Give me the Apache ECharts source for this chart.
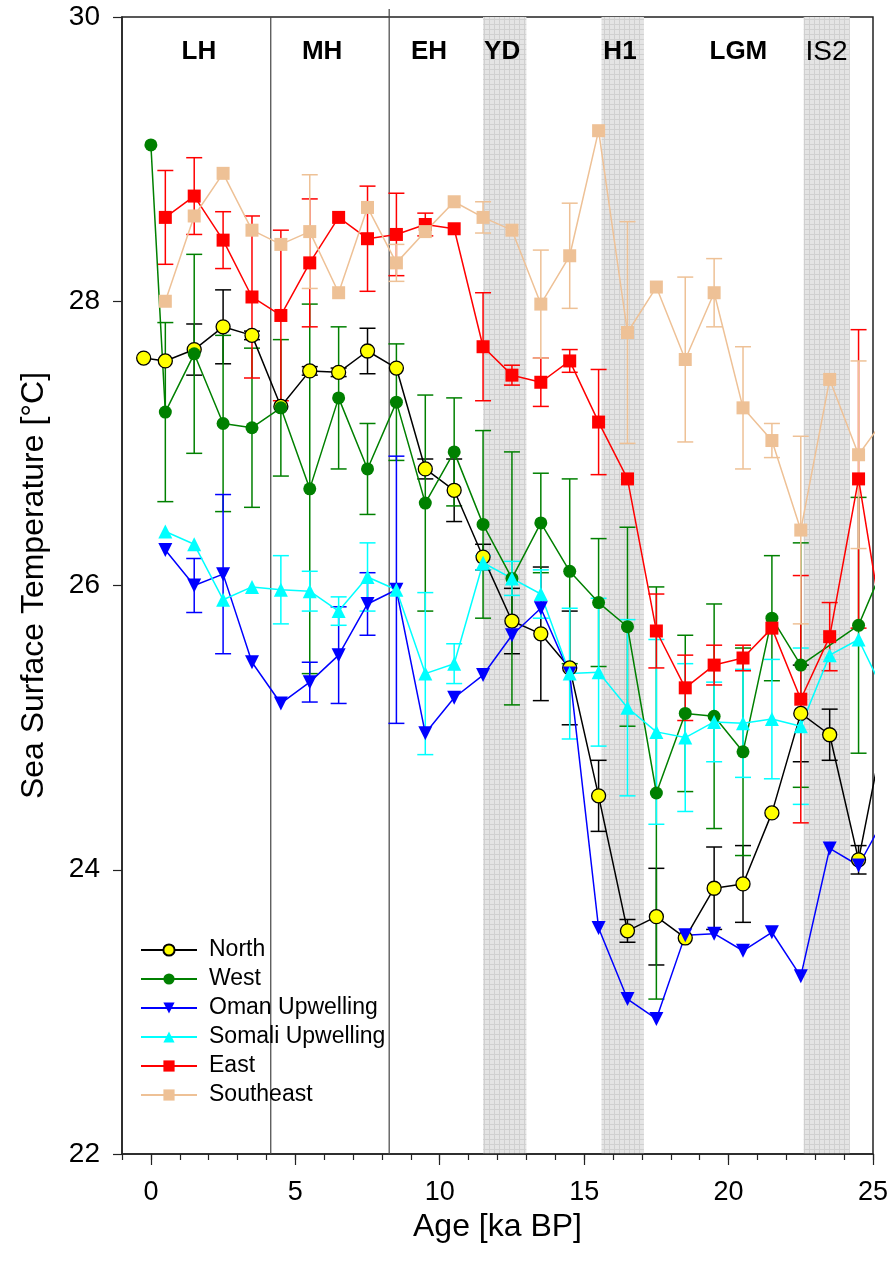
<!DOCTYPE html>
<html>
<head>
<meta charset="utf-8">
<script src="https://cdn.jsdelivr.net/npm/echarts@6/dist/echarts.min.js"></script>
<style>
html,body{margin:0;padding:0;background:#fff;}
#chart{width:892px;height:1271px;}
</style>
</head>
<body>
<div id="chart"></div>
<script>
// ---- Data ----
const northAge = [-0.25,0.5,1.5,2.5,3.5,4.5,5.5,6.5,7.5,8.5,9.5,10.5,11.5,12.5,13.5,14.5,15.5,16.5,17.5,18.5,19.5,20.5,21.5,22.5,23.5,24.5,25.5];
const northSST = [27.6,27.58,27.66,27.82,27.76,27.26,27.51,27.5,27.65,27.53,26.82,26.67,26.2,25.75,25.66,25.42,24.52,23.57,23.67,23.52,23.87,23.9,24.4,25.1,24.95,24.07,25.1];
const northErr = [null,null,0.18,0.26,0.03,null,0.03,0.03,0.16,null,0.07,0.22,0.09,0.23,0.47,0.4,0.25,0.08,0.34,null,0.29,0.27,null,0.34,0.18,0.1,null];

const westAge = [0,0.5,1.5,2.5,3.5,4.5,5.5,6.5,7.5,8.5,9.5,10.5,11.5,12.5,13.5,14.5,15.5,16.5,17.5,18.5,19.5,20.5,21.5,22.5,24.5,25.5];
const westSST = [29.1,27.22,27.63,27.14,27.11,27.25,26.68,27.32,26.82,27.29,26.58,26.94,26.43,26.05,26.44,26.1,25.88,25.71,24.54,25.1,25.08,24.83,25.77,25.44,25.72,26.2];
const westErr = [null,0.63,0.7,0.62,0.56,0.48,1.3,0.5,0.32,0.41,0.76,0.38,0.66,0.89,0.35,0.65,0.45,0.7,1.45,0.55,0.79,0.73,0.44,0.86,0.9,null];

const stdAge = [0.5,1.5,2.5,3.5,4.5,5.5,6.5,7.5,8.5,9.5,10.5,11.5,12.5,13.5,14.5,15.5,16.5,17.5,18.5,19.5,20.5,21.5,22.5,23.5,24.5,25.5];

const omanSST = [26.25,26.0,26.08,25.46,25.17,25.32,25.51,25.87,25.97,24.96,25.21,25.37,25.65,25.84,25.38,23.59,23.09,22.95,23.54,23.55,23.43,23.56,23.25,24.15,24.03,24.4];
const omanErr = [null,0.19,0.56,null,null,0.14,0.34,0.22,0.94,null,null,null,null,null,null,null,null,null,null,null,null,null,null,null,null,null];

const somaliSST = [26.38,26.29,25.9,25.99,25.97,25.96,25.82,26.06,25.97,25.38,25.45,26.16,26.05,25.94,25.38,25.39,25.14,24.97,24.93,25.04,25.03,25.06,25.01,25.51,25.62,25.2];
const somaliErr = [null,null,null,null,0.24,0.14,0.1,0.24,null,0.57,0.14,0.05,0.12,0.17,0.46,0.52,0.62,0.65,0.52,0.28,0.38,0.42,0.55,null,null,null];

const eastSST = [28.59,28.74,28.43,28.03,27.9,28.27,28.59,28.44,28.47,28.54,28.51,27.68,27.48,27.43,27.58,27.15,26.75,25.68,25.28,25.44,25.49,25.7,25.2,25.64,26.75,25.5];
const eastErr = [0.33,0.27,0.2,0.57,0.6,0.45,null,0.37,0.29,0.08,null,0.38,0.07,0.17,0.08,0.37,null,0.26,0.23,0.14,0.09,null,0.87,0.24,1.05,null];

const seSST = [28.0,28.6,28.9,28.5,28.4,28.49,28.06,28.66,28.27,28.49,28.7,28.59,28.5,27.98,28.32,29.2,27.78,28.1,27.59,28.06,27.25,27.02,26.39,27.45,26.92,27.2];
const seErr = [null,null,null,null,null,0.4,null,null,0.13,null,null,0.11,null,0.38,0.37,null,0.78,null,0.58,0.24,0.43,0.12,0.66,null,0.66,null];

const bands = [[11.5,13.0],[15.6,17.07],[22.6,24.2]];
const dividers = [4.15,8.25];
const periodNames = ['LH','MH','EH','YD','H1','LGM','IS2'];
const periodAges  = [1.66,5.93,9.63,12.16,16.24,20.34,23.39];
const periodBold  = [true,true,true,true,true,true,false];
const periodY = 29.755;

const xLabelValues = [0,5,10,15,20,25];
const xMinorValues = [-1,0,1,2,3,4,5,6,7,8,9,10,11,12,13,14,15,16,17,18,19,20,21,22,23,24,25];

// ---- Build ----
const FONT = 'Liberation Sans, Arial, sans-serif';
const pat = document.createElement('canvas');
pat.width = 5; pat.height = 5;
(function(){const c=pat.getContext('2d');c.fillStyle='#e4e4e4';c.fillRect(0,0,5,5);c.fillStyle='#d0d0d0';c.fillRect(4,0,1,5);c.fillRect(0,4,5,1);})();

function pairs(ages, vals){ return ages.map((a,i)=>[a, vals[i]]); }

function errSeries(ages, vals, errs, color){
  const data = [];
  for (let i=0;i<ages.length;i++) if (errs[i]!=null) data.push([ages[i], vals[i]-errs[i], vals[i]+errs[i]]);
  return {
    type:'custom', silent:true, data, clip:true, encode:{x:0,y:[1,2]},
    renderItem(params, api){
      const x = api.value(0);
      const lo = api.coord([x, api.value(1)]);
      const hi = api.coord([x, api.value(2)]);
      const w = 8, st = {stroke:color, lineWidth:1.5};
      return {type:'group', children:[
        {type:'line', shape:{x1:lo[0],y1:lo[1],x2:hi[0],y2:hi[1]}, style:st},
        {type:'line', shape:{x1:lo[0]-w,y1:lo[1],x2:lo[0]+w,y2:lo[1]}, style:st},
        {type:'line', shape:{x1:hi[0]-w,y1:hi[1],x2:hi[0]+w,y2:hi[1]}, style:st}
      ]};
    }
  };
}

function lineSeries(name, ages, vals, o){
  return {
    type:'line', name, data:pairs(ages, vals), clip:true,
    symbol:o.symbol, symbolSize:o.size||13, symbolRotate:o.rotate||0, showSymbol:true,
    lineStyle:{color:o.line, width:1.5},
    itemStyle:{color:o.fill, borderColor:o.border||o.fill, borderWidth:o.border?1.3:0},
    emphasis:{disabled:true}, animation:false
  };
}

const series = [];
// shaded bands
series.push({
  type:'custom', silent:true, z:0, data:bands, clip:true, encode:{x:[0,1]},
  renderItem(params, api){
    const a = api.coord([api.value(0), 30]);
    const b = api.coord([api.value(1), 22]);
    return {type:'rect', shape:{x:a[0], y:a[1], width:b[0]-a[0], height:b[1]-a[1]}, style:{fill:{image:pat, repeat:'repeat'}}};
  }
});
// divider lines
series.push({
  type:'custom', silent:true, z:1, data:dividers.map(d=>[d]), encode:{x:0},
  renderItem(params, api){
    const a = api.coord([api.value(0), 30]);
    const b = api.coord([api.value(0), 22]);
    return {type:'line', shape:{x1:a[0],y1:a[1]-(params.dataIndex===1?8:0),x2:b[0],y2:b[1]}, style:{stroke:'#444', lineWidth:1.2}};
  }
});
// period labels
series.push({
  type:'custom', silent:true, z:5, data:periodAges.map((a,i)=>[a, periodY, i]), encode:{x:0,y:1},
  renderItem(params, api){
    const i = api.value(2);
    const p = api.coord([api.value(0), api.value(1)]);
    return {type:'text', x:p[0], y:p[1], style:{text:periodNames[i], fill:'#000', align:'center', verticalAlign:'middle',
      font:(periodBold[i]?'bold 26px ':'28px ')+FONT}};
  }
});

const defs = [
  ['North', northAge, northSST, northErr, {symbol:'circle', line:'#000000', fill:'#ffff00', border:'#000000', size:14}],
  ['West', westAge, westSST, westErr, {symbol:'circle', line:'#008000', fill:'#008000', size:13}],
  ['Oman Upwelling', stdAge, omanSST, omanErr, {symbol:'triangle', rotate:180, line:'#0000ff', fill:'#0000ff', size:14}],
  ['Somali Upwelling', stdAge, somaliSST, somaliErr, {symbol:'triangle', line:'#00ffff', fill:'#00ffff', size:14}],
  ['East', stdAge, eastSST, eastErr, {symbol:'rect', line:'#ff0000', fill:'#ff0000', size:13}],
  ['Southeast', stdAge, seSST, seErr, {symbol:'rect', line:'#eec196', fill:'#eec196', size:13}]
];
defs.forEach(d=>{
  series.push(errSeries(d[1], d[2], d[3], d[4].line));
  series.push(lineSeries(d[0], d[1], d[2], d[4]));
});

const chart = echarts.init(document.getElementById('chart'), null, {renderer:'canvas'});
chart.setOption({
  animation:false,
  backgroundColor:'#ffffff',
  grid:{left:122, right:19, top:17, bottom:117, show:true, borderColor:'#222', borderWidth:1.5, backgroundColor:'transparent'},
  legend:{
    data:defs.map(d=>d[0]), orient:'vertical', left:135, top:933,
    itemWidth:56, itemHeight:14, itemGap:5,
    textStyle:{fontFamily:FONT, fontSize:23, color:'#000', lineHeight:24, padding:[0,0,0,7]},
    selectedMode:false
  },
  xAxis:[{
    type:'value', min:-1, max:25, position:'bottom',
    name:'Age [ka BP]', nameLocation:'middle', nameGap:50,
    nameTextStyle:{fontFamily:FONT, fontSize:32, color:'#000'},
    axisLine:{show:true, onZero:false, lineStyle:{color:'#222', width:1.5}},
    axisTick:{show:true, inside:false, length:6, customValues:xMinorValues, lineStyle:{color:'#222', width:1.2}},
    axisLabel:{show:true, customValues:xLabelValues, fontFamily:FONT, fontSize:27, color:'#000', margin:25},
    splitLine:{show:false}
  },{
    type:'value', min:-1, max:25, position:'bottom',
    axisLine:{show:false, onZero:false},
    axisTick:{show:true, inside:false, length:11, customValues:xLabelValues, lineStyle:{color:'#222', width:1.2}},
    axisLabel:{show:false},
    splitLine:{show:false}
  }],
  yAxis:{
    type:'value', min:22, max:30, interval:2,
    name:'Sea Surface Temperature [°C]', nameLocation:'middle', nameGap:72,
    nameTextStyle:{fontFamily:FONT, fontSize:32, color:'#000'},
    axisLine:{show:true, onZero:false, lineStyle:{color:'#222', width:1.5}},
    axisTick:{show:true, inside:false, length:9, lineStyle:{color:'#222', width:1.2}},
    axisLabel:{fontFamily:FONT, fontSize:28, color:'#000', margin:22},
    splitLine:{show:false}
  },
  series
});
</script>
</body>
</html>
